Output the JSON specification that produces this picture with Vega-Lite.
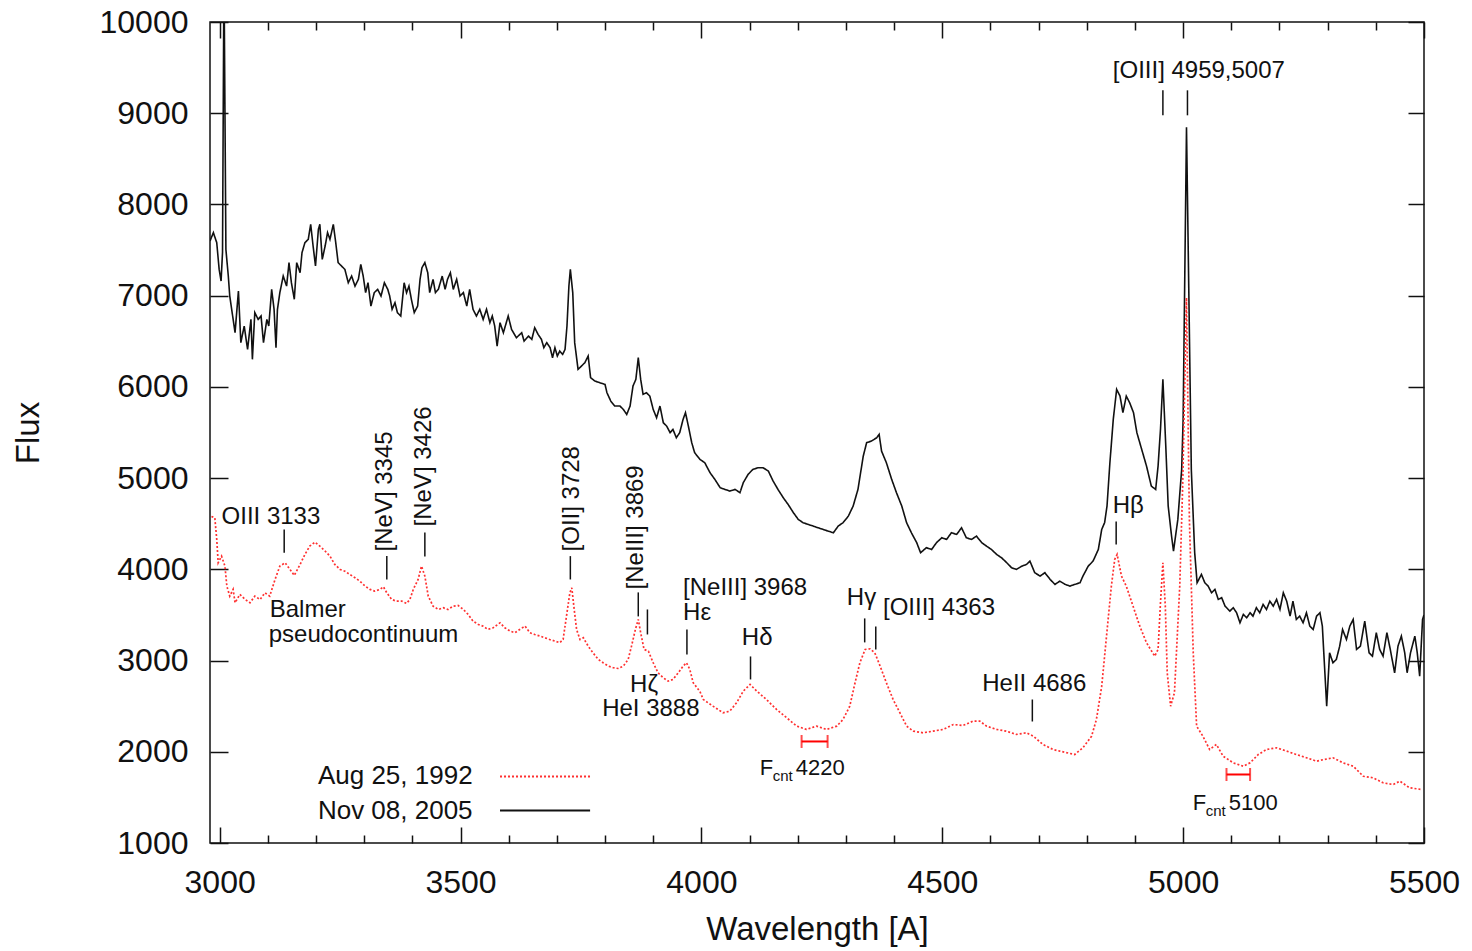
{
  "$schema": "https://vega.github.io/schema/vega-lite/v6.json",
  "width": 1214,
  "height": 821,
  "autosize": {"type": "none"},
  "padding": {"left": 210, "top": 22, "right": 48, "bottom": 108},
  "background": "white",
  "config": {
    "view": {"stroke": "#111111", "strokeWidth": 1.5},
    "font": "Liberation Sans",
    "axis": {"domain": false, "grid": false, "labelFont": "Liberation Sans", "titleFont": "Liberation Sans", "labelFontSize": 32, "titleFontSize": 33, "titleFontWeight": "normal", "labelColor": "#111111", "titleColor": "#111111", "tickColor": "#111111", "tickWidth": 1.5, "labelOverlap": false, "labelFlush": false, "format": "d"},
    "text": {"font": "Liberation Sans", "fontSize": 24, "color": "#111111"}
  },
  "datasets": {
    "spectra": [
      {"series":"Nov 08, 2005","w":2980,"f":7599},{"series":"Nov 08, 2005","w":2987,"f":7691},{"series":"Nov 08, 2005","w":2994,"f":7581},{"series":"Nov 08, 2005","w":2999,"f":7288},{"series":"Nov 08, 2005","w":3003,"f":7160},{"series":"Nov 08, 2005","w":3006,"f":7475},{"series":"Nov 08, 2005","w":3009,"f":10600},{"series":"Nov 08, 2005","w":3013,"f":7508},{"series":"Nov 08, 2005","w":3018,"f":7215},{"series":"Nov 08, 2005","w":3021,"f":6996},{"series":"Nov 08, 2005","w":3026,"f":6814},{"series":"Nov 08, 2005","w":3032,"f":6594},{"series":"Nov 08, 2005","w":3039,"f":7051},{"series":"Nov 08, 2005","w":3044,"f":6485},{"series":"Nov 08, 2005","w":3051,"f":6667},{"series":"Nov 08, 2005","w":3058,"f":6411},{"series":"Nov 08, 2005","w":3065,"f":6740},{"series":"Nov 08, 2005","w":3068,"f":6302},{"series":"Nov 08, 2005","w":3073,"f":6814},{"series":"Nov 08, 2005","w":3080,"f":6740},{"series":"Nov 08, 2005","w":3086,"f":6777},{"series":"Nov 08, 2005","w":3091,"f":6485},{"series":"Nov 08, 2005","w":3098,"f":6740},{"series":"Nov 08, 2005","w":3102,"f":6667},{"series":"Nov 08, 2005","w":3108,"f":7069},{"series":"Nov 08, 2005","w":3113,"f":6850},{"series":"Nov 08, 2005","w":3117,"f":6430},{"series":"Nov 08, 2005","w":3120,"f":6850},{"series":"Nov 08, 2005","w":3125,"f":7033},{"series":"Nov 08, 2005","w":3132,"f":7215},{"series":"Nov 08, 2005","w":3139,"f":7105},{"series":"Nov 08, 2005","w":3144,"f":7362},{"series":"Nov 08, 2005","w":3149,"f":7142},{"series":"Nov 08, 2005","w":3155,"f":6960},{"series":"Nov 08, 2005","w":3160,"f":7362},{"series":"Nov 08, 2005","w":3167,"f":7252},{"series":"Nov 08, 2005","w":3171,"f":7472},{"series":"Nov 08, 2005","w":3177,"f":7581},{"series":"Nov 08, 2005","w":3184,"f":7618},{"series":"Nov 08, 2005","w":3189,"f":7782},{"series":"Nov 08, 2005","w":3194,"f":7544},{"series":"Nov 08, 2005","w":3199,"f":7325},{"series":"Nov 08, 2005","w":3205,"f":7727},{"series":"Nov 08, 2005","w":3208,"f":7782},{"series":"Nov 08, 2005","w":3213,"f":7398},{"series":"Nov 08, 2005","w":3219,"f":7544},{"series":"Nov 08, 2005","w":3224,"f":7691},{"series":"Nov 08, 2005","w":3229,"f":7618},{"series":"Nov 08, 2005","w":3236,"f":7782},{"series":"Nov 08, 2005","w":3241,"f":7581},{"series":"Nov 08, 2005","w":3246,"f":7362},{"series":"Nov 08, 2005","w":3253,"f":7325},{"series":"Nov 08, 2005","w":3260,"f":7288},{"series":"Nov 08, 2005","w":3267,"f":7142},{"series":"Nov 08, 2005","w":3274,"f":7215},{"series":"Nov 08, 2005","w":3281,"f":7105},{"series":"Nov 08, 2005","w":3288,"f":7179},{"series":"Nov 08, 2005","w":3293,"f":7343},{"series":"Nov 08, 2005","w":3298,"f":7215},{"series":"Nov 08, 2005","w":3303,"f":7033},{"series":"Nov 08, 2005","w":3308,"f":7142},{"series":"Nov 08, 2005","w":3314,"f":6886},{"series":"Nov 08, 2005","w":3321,"f":7033},{"series":"Nov 08, 2005","w":3328,"f":7069},{"series":"Nov 08, 2005","w":3335,"f":6996},{"series":"Nov 08, 2005","w":3342,"f":7142},{"series":"Nov 08, 2005","w":3349,"f":7069},{"series":"Nov 08, 2005","w":3353,"f":6996},{"series":"Nov 08, 2005","w":3358,"f":6850},{"series":"Nov 08, 2005","w":3364,"f":6923},{"series":"Nov 08, 2005","w":3369,"f":6814},{"series":"Nov 08, 2005","w":3376,"f":6777},{"series":"Nov 08, 2005","w":3383,"f":7142},{"series":"Nov 08, 2005","w":3388,"f":7033},{"series":"Nov 08, 2005","w":3393,"f":7105},{"series":"Nov 08, 2005","w":3398,"f":6960},{"series":"Nov 08, 2005","w":3404,"f":6814},{"series":"Nov 08, 2005","w":3411,"f":6886},{"series":"Nov 08, 2005","w":3416,"f":7179},{"series":"Nov 08, 2005","w":3420,"f":7307},{"series":"Nov 08, 2005","w":3426,"f":7362},{"series":"Nov 08, 2005","w":3432,"f":7252},{"series":"Nov 08, 2005","w":3436,"f":7033},{"series":"Nov 08, 2005","w":3443,"f":7179},{"series":"Nov 08, 2005","w":3448,"f":7033},{"series":"Nov 08, 2005","w":3454,"f":7069},{"series":"Nov 08, 2005","w":3462,"f":7215},{"series":"Nov 08, 2005","w":3468,"f":7069},{"series":"Nov 08, 2005","w":3473,"f":7179},{"series":"Nov 08, 2005","w":3479,"f":7252},{"series":"Nov 08, 2005","w":3485,"f":7069},{"series":"Nov 08, 2005","w":3492,"f":7179},{"series":"Nov 08, 2005","w":3499,"f":6996},{"series":"Nov 08, 2005","w":3506,"f":7033},{"series":"Nov 08, 2005","w":3513,"f":6886},{"series":"Nov 08, 2005","w":3519,"f":7069},{"series":"Nov 08, 2005","w":3526,"f":6850},{"series":"Nov 08, 2005","w":3533,"f":6777},{"series":"Nov 08, 2005","w":3540,"f":6850},{"series":"Nov 08, 2005","w":3547,"f":6740},{"series":"Nov 08, 2005","w":3554,"f":6850},{"series":"Nov 08, 2005","w":3561,"f":6704},{"series":"Nov 08, 2005","w":3566,"f":6777},{"series":"Nov 08, 2005","w":3571,"f":6667},{"series":"Nov 08, 2005","w":3576,"f":6447},{"series":"Nov 08, 2005","w":3582,"f":6704},{"series":"Nov 08, 2005","w":3589,"f":6594},{"series":"Nov 08, 2005","w":3599,"f":6777},{"series":"Nov 08, 2005","w":3606,"f":6630},{"series":"Nov 08, 2005","w":3616,"f":6539},{"series":"Nov 08, 2005","w":3627,"f":6594},{"series":"Nov 08, 2005","w":3632,"f":6502},{"series":"Nov 08, 2005","w":3641,"f":6557},{"series":"Nov 08, 2005","w":3648,"f":6521},{"series":"Nov 08, 2005","w":3654,"f":6649},{"series":"Nov 08, 2005","w":3661,"f":6576},{"series":"Nov 08, 2005","w":3668,"f":6521},{"series":"Nov 08, 2005","w":3673,"f":6430},{"series":"Nov 08, 2005","w":3679,"f":6485},{"series":"Nov 08, 2005","w":3686,"f":6430},{"series":"Nov 08, 2005","w":3691,"f":6320},{"series":"Nov 08, 2005","w":3696,"f":6430},{"series":"Nov 08, 2005","w":3701,"f":6338},{"series":"Nov 08, 2005","w":3706,"f":6393},{"series":"Nov 08, 2005","w":3712,"f":6356},{"series":"Nov 08, 2005","w":3717,"f":6411},{"series":"Nov 08, 2005","w":3721,"f":6667},{"series":"Nov 08, 2005","w":3725,"f":7105},{"series":"Nov 08, 2005","w":3728,"f":7288},{"series":"Nov 08, 2005","w":3733,"f":7033},{"series":"Nov 08, 2005","w":3737,"f":6485},{"series":"Nov 08, 2005","w":3744,"f":6192},{"series":"Nov 08, 2005","w":3751,"f":6228},{"series":"Nov 08, 2005","w":3758,"f":6265},{"series":"Nov 08, 2005","w":3765,"f":6338},{"series":"Nov 08, 2005","w":3770,"f":6101},{"series":"Nov 08, 2005","w":3779,"f":6064},{"series":"Nov 08, 2005","w":3789,"f":6046},{"series":"Nov 08, 2005","w":3800,"f":6027},{"series":"Nov 08, 2005","w":3804,"f":5936},{"series":"Nov 08, 2005","w":3812,"f":5844},{"series":"Nov 08, 2005","w":3820,"f":5790},{"series":"Nov 08, 2005","w":3831,"f":5790},{"series":"Nov 08, 2005","w":3838,"f":5753},{"series":"Nov 08, 2005","w":3845,"f":5698},{"series":"Nov 08, 2005","w":3852,"f":5790},{"series":"Nov 08, 2005","w":3858,"f":6009},{"series":"Nov 08, 2005","w":3864,"f":6082},{"series":"Nov 08, 2005","w":3869,"f":6320},{"series":"Nov 08, 2005","w":3874,"f":6082},{"series":"Nov 08, 2005","w":3879,"f":5918},{"series":"Nov 08, 2005","w":3886,"f":5936},{"series":"Nov 08, 2005","w":3893,"f":5899},{"series":"Nov 08, 2005","w":3900,"f":5753},{"series":"Nov 08, 2005","w":3907,"f":5662},{"series":"Nov 08, 2005","w":3914,"f":5790},{"series":"Nov 08, 2005","w":3921,"f":5607},{"series":"Nov 08, 2005","w":3928,"f":5570},{"series":"Nov 08, 2005","w":3935,"f":5498},{"series":"Nov 08, 2005","w":3941,"f":5534},{"series":"Nov 08, 2005","w":3948,"f":5443},{"series":"Nov 08, 2005","w":3955,"f":5498},{"series":"Nov 08, 2005","w":3962,"f":5644},{"series":"Nov 08, 2005","w":3967,"f":5717},{"series":"Nov 08, 2005","w":3973,"f":5570},{"series":"Nov 08, 2005","w":3980,"f":5388},{"series":"Nov 08, 2005","w":3986,"f":5279},{"series":"Nov 08, 2005","w":3997,"f":5205},{"series":"Nov 08, 2005","w":4007,"f":5169},{"series":"Nov 08, 2005","w":4018,"f":5059},{"series":"Nov 08, 2005","w":4028,"f":4986},{"series":"Nov 08, 2005","w":4039,"f":4895},{"series":"Nov 08, 2005","w":4049,"f":4876},{"series":"Nov 08, 2005","w":4059,"f":4858},{"series":"Nov 08, 2005","w":4070,"f":4876},{"series":"Nov 08, 2005","w":4080,"f":4840},{"series":"Nov 08, 2005","w":4087,"f":4950},{"series":"Nov 08, 2005","w":4097,"f":5041},{"series":"Nov 08, 2005","w":4107,"f":5096},{"series":"Nov 08, 2005","w":4118,"f":5114},{"series":"Nov 08, 2005","w":4128,"f":5114},{"series":"Nov 08, 2005","w":4139,"f":5077},{"series":"Nov 08, 2005","w":4149,"f":4967},{"series":"Nov 08, 2005","w":4159,"f":4876},{"series":"Nov 08, 2005","w":4170,"f":4785},{"series":"Nov 08, 2005","w":4180,"f":4712},{"series":"Nov 08, 2005","w":4191,"f":4621},{"series":"Nov 08, 2005","w":4201,"f":4548},{"series":"Nov 08, 2005","w":4211,"f":4511},{"series":"Nov 08, 2005","w":4222,"f":4492},{"series":"Nov 08, 2005","w":4232,"f":4474},{"series":"Nov 08, 2005","w":4242,"f":4456},{"series":"Nov 08, 2005","w":4253,"f":4437},{"series":"Nov 08, 2005","w":4263,"f":4419},{"series":"Nov 08, 2005","w":4274,"f":4401},{"series":"Nov 08, 2005","w":4284,"f":4474},{"series":"Nov 08, 2005","w":4294,"f":4511},{"series":"Nov 08, 2005","w":4305,"f":4583},{"series":"Nov 08, 2005","w":4315,"f":4693},{"series":"Nov 08, 2005","w":4325,"f":4876},{"series":"Nov 08, 2005","w":4336,"f":5241},{"series":"Nov 08, 2005","w":4343,"f":5388},{"series":"Nov 08, 2005","w":4353,"f":5406},{"series":"Nov 08, 2005","w":4364,"f":5443},{"series":"Nov 08, 2005","w":4369,"f":5479},{"series":"Nov 08, 2005","w":4374,"f":5296},{"series":"Nov 08, 2005","w":4384,"f":5169},{"series":"Nov 08, 2005","w":4395,"f":4986},{"series":"Nov 08, 2005","w":4405,"f":4840},{"series":"Nov 08, 2005","w":4416,"f":4693},{"series":"Nov 08, 2005","w":4426,"f":4511},{"series":"Nov 08, 2005","w":4436,"f":4401},{"series":"Nov 08, 2005","w":4447,"f":4292},{"series":"Nov 08, 2005","w":4455,"f":4182},{"series":"Nov 08, 2005","w":4467,"f":4237},{"series":"Nov 08, 2005","w":4478,"f":4218},{"series":"Nov 08, 2005","w":4488,"f":4292},{"series":"Nov 08, 2005","w":4499,"f":4346},{"series":"Nov 08, 2005","w":4509,"f":4328},{"series":"Nov 08, 2005","w":4519,"f":4401},{"series":"Nov 08, 2005","w":4530,"f":4383},{"series":"Nov 08, 2005","w":4540,"f":4456},{"series":"Nov 08, 2005","w":4550,"f":4346},{"series":"Nov 08, 2005","w":4561,"f":4328},{"series":"Nov 08, 2005","w":4571,"f":4364},{"series":"Nov 08, 2005","w":4582,"f":4292},{"series":"Nov 08, 2005","w":4592,"f":4254},{"series":"Nov 08, 2005","w":4602,"f":4218},{"series":"Nov 08, 2005","w":4613,"f":4163},{"series":"Nov 08, 2005","w":4623,"f":4127},{"series":"Nov 08, 2005","w":4634,"f":4072},{"series":"Nov 08, 2005","w":4644,"f":4017},{"series":"Nov 08, 2005","w":4654,"f":3999},{"series":"Nov 08, 2005","w":4665,"f":4035},{"series":"Nov 08, 2005","w":4675,"f":4054},{"series":"Nov 08, 2005","w":4682,"f":4090},{"series":"Nov 08, 2005","w":4692,"f":3963},{"series":"Nov 08, 2005","w":4703,"f":3926},{"series":"Nov 08, 2005","w":4713,"f":3963},{"series":"Nov 08, 2005","w":4724,"f":3889},{"series":"Nov 08, 2005","w":4734,"f":3835},{"series":"Nov 08, 2005","w":4744,"f":3871},{"series":"Nov 08, 2005","w":4755,"f":3835},{"series":"Nov 08, 2005","w":4765,"f":3816},{"series":"Nov 08, 2005","w":4775,"f":3835},{"series":"Nov 08, 2005","w":4786,"f":3853},{"series":"Nov 08, 2005","w":4792,"f":3926},{"series":"Nov 08, 2005","w":4803,"f":4035},{"series":"Nov 08, 2005","w":4813,"f":4090},{"series":"Nov 08, 2005","w":4824,"f":4218},{"series":"Nov 08, 2005","w":4831,"f":4437},{"series":"Nov 08, 2005","w":4837,"f":4511},{"series":"Nov 08, 2005","w":4842,"f":4693},{"series":"Nov 08, 2005","w":4848,"f":5169},{"series":"Nov 08, 2005","w":4855,"f":5644},{"series":"Nov 08, 2005","w":4862,"f":5973},{"series":"Nov 08, 2005","w":4869,"f":5899},{"series":"Nov 08, 2005","w":4875,"f":5717},{"series":"Nov 08, 2005","w":4882,"f":5899},{"series":"Nov 08, 2005","w":4889,"f":5827},{"series":"Nov 08, 2005","w":4897,"f":5717},{"series":"Nov 08, 2005","w":4904,"f":5498},{"series":"Nov 08, 2005","w":4914,"f":5315},{"series":"Nov 08, 2005","w":4924,"f":5132},{"series":"Nov 08, 2005","w":4934,"f":4912},{"series":"Nov 08, 2005","w":4943,"f":4876},{"series":"Nov 08, 2005","w":4948,"f":5132},{"series":"Nov 08, 2005","w":4953,"f":5534},{"series":"Nov 08, 2005","w":4958,"f":6082},{"series":"Nov 08, 2005","w":4964,"f":5351},{"series":"Nov 08, 2005","w":4969,"f":4693},{"series":"Nov 08, 2005","w":4976,"f":4364},{"series":"Nov 08, 2005","w":4980,"f":4200},{"series":"Nov 08, 2005","w":4989,"f":4547},{"series":"Nov 08, 2005","w":4997,"f":5096},{"series":"Nov 08, 2005","w":5000,"f":5644},{"series":"Nov 08, 2005","w":5007,"f":8846},{"series":"Nov 08, 2005","w":5017,"f":5096},{"series":"Nov 08, 2005","w":5024,"f":4182},{"series":"Nov 08, 2005","w":5029,"f":3853},{"series":"Nov 08, 2005","w":5038,"f":3944},{"series":"Nov 08, 2005","w":5045,"f":3853},{"series":"Nov 08, 2005","w":5052,"f":3816},{"series":"Nov 08, 2005","w":5059,"f":3743},{"series":"Nov 08, 2005","w":5066,"f":3780},{"series":"Nov 08, 2005","w":5073,"f":3670},{"series":"Nov 08, 2005","w":5080,"f":3689},{"series":"Nov 08, 2005","w":5087,"f":3597},{"series":"Nov 08, 2005","w":5097,"f":3542},{"series":"Nov 08, 2005","w":5104,"f":3579},{"series":"Nov 08, 2005","w":5111,"f":3524},{"series":"Nov 08, 2005","w":5118,"f":3414},{"series":"Nov 08, 2005","w":5125,"f":3506},{"series":"Nov 08, 2005","w":5132,"f":3469},{"series":"Nov 08, 2005","w":5139,"f":3524},{"series":"Nov 08, 2005","w":5145,"f":3487},{"series":"Nov 08, 2005","w":5152,"f":3579},{"series":"Nov 08, 2005","w":5159,"f":3524},{"series":"Nov 08, 2005","w":5166,"f":3615},{"series":"Nov 08, 2005","w":5173,"f":3560},{"series":"Nov 08, 2005","w":5180,"f":3651},{"series":"Nov 08, 2005","w":5187,"f":3597},{"series":"Nov 08, 2005","w":5194,"f":3670},{"series":"Nov 08, 2005","w":5201,"f":3560},{"series":"Nov 08, 2005","w":5208,"f":3743},{"series":"Nov 08, 2005","w":5215,"f":3651},{"series":"Nov 08, 2005","w":5222,"f":3487},{"series":"Nov 08, 2005","w":5228,"f":3651},{"series":"Nov 08, 2005","w":5235,"f":3451},{"series":"Nov 08, 2005","w":5242,"f":3487},{"series":"Nov 08, 2005","w":5249,"f":3414},{"series":"Nov 08, 2005","w":5256,"f":3524},{"series":"Nov 08, 2005","w":5263,"f":3377},{"series":"Nov 08, 2005","w":5270,"f":3341},{"series":"Nov 08, 2005","w":5277,"f":3487},{"series":"Nov 08, 2005","w":5284,"f":3524},{"series":"Nov 08, 2005","w":5289,"f":3377},{"series":"Nov 08, 2005","w":5292,"f":3085},{"series":"Nov 08, 2005","w":5298,"f":2500},{"series":"Nov 08, 2005","w":5304,"f":3085},{"series":"Nov 08, 2005","w":5311,"f":2976},{"series":"Nov 08, 2005","w":5318,"f":3012},{"series":"Nov 08, 2005","w":5325,"f":3158},{"series":"Nov 08, 2005","w":5331,"f":3341},{"series":"Nov 08, 2005","w":5339,"f":3231},{"series":"Nov 08, 2005","w":5346,"f":3377},{"series":"Nov 08, 2005","w":5353,"f":3451},{"series":"Nov 08, 2005","w":5360,"f":3122},{"series":"Nov 08, 2005","w":5368,"f":3158},{"series":"Nov 08, 2005","w":5377,"f":3432},{"series":"Nov 08, 2005","w":5386,"f":3085},{"series":"Nov 08, 2005","w":5393,"f":3048},{"series":"Nov 08, 2005","w":5401,"f":3305},{"series":"Nov 08, 2005","w":5408,"f":3122},{"series":"Nov 08, 2005","w":5415,"f":3048},{"series":"Nov 08, 2005","w":5423,"f":3305},{"series":"Nov 08, 2005","w":5430,"f":3122},{"series":"Nov 08, 2005","w":5439,"f":2866},{"series":"Nov 08, 2005","w":5446,"f":3158},{"series":"Nov 08, 2005","w":5453,"f":3268},{"series":"Nov 08, 2005","w":5460,"f":3085},{"series":"Nov 08, 2005","w":5465,"f":2866},{"series":"Nov 08, 2005","w":5472,"f":3085},{"series":"Nov 08, 2005","w":5481,"f":3268},{"series":"Nov 08, 2005","w":5486,"f":3085},{"series":"Nov 08, 2005","w":5491,"f":2829},{"series":"Nov 08, 2005","w":5497,"f":3451},{"series":"Nov 08, 2005","w":5500,"f":3500},
      {"series":"Aug 25, 1992","w":2983,"f":4580},{"series":"Aug 25, 1992","w":2990,"f":4566},{"series":"Aug 25, 1992","w":2994,"f":4328},{"series":"Aug 25, 1992","w":2997,"f":4072},{"series":"Aug 25, 1992","w":3004,"f":4145},{"series":"Aug 25, 1992","w":3011,"f":4035},{"series":"Aug 25, 1992","w":3015,"f":3816},{"series":"Aug 25, 1992","w":3021,"f":3706},{"series":"Aug 25, 1992","w":3028,"f":3780},{"series":"Aug 25, 1992","w":3032,"f":3634},{"series":"Aug 25, 1992","w":3042,"f":3725},{"series":"Aug 25, 1992","w":3053,"f":3670},{"series":"Aug 25, 1992","w":3063,"f":3634},{"series":"Aug 25, 1992","w":3073,"f":3706},{"series":"Aug 25, 1992","w":3084,"f":3670},{"series":"Aug 25, 1992","w":3094,"f":3743},{"series":"Aug 25, 1992","w":3104,"f":3706},{"series":"Aug 25, 1992","w":3115,"f":3889},{"series":"Aug 25, 1992","w":3125,"f":4035},{"series":"Aug 25, 1992","w":3136,"f":4072},{"series":"Aug 25, 1992","w":3146,"f":3999},{"series":"Aug 25, 1992","w":3155,"f":3933},{"series":"Aug 25, 1992","w":3167,"f":4054},{"series":"Aug 25, 1992","w":3177,"f":4163},{"series":"Aug 25, 1992","w":3187,"f":4254},{"series":"Aug 25, 1992","w":3198,"f":4298},{"series":"Aug 25, 1992","w":3208,"f":4254},{"series":"Aug 25, 1992","w":3219,"f":4200},{"series":"Aug 25, 1992","w":3229,"f":4145},{"series":"Aug 25, 1992","w":3239,"f":4054},{"series":"Aug 25, 1992","w":3250,"f":3999},{"series":"Aug 25, 1992","w":3260,"f":3980},{"series":"Aug 25, 1992","w":3270,"f":3944},{"series":"Aug 25, 1992","w":3281,"f":3908},{"series":"Aug 25, 1992","w":3291,"f":3871},{"series":"Aug 25, 1992","w":3302,"f":3816},{"series":"Aug 25, 1992","w":3312,"f":3780},{"series":"Aug 25, 1992","w":3322,"f":3761},{"series":"Aug 25, 1992","w":3333,"f":3780},{"series":"Aug 25, 1992","w":3340,"f":3809},{"series":"Aug 25, 1992","w":3347,"f":3743},{"series":"Aug 25, 1992","w":3357,"f":3670},{"series":"Aug 25, 1992","w":3367,"f":3651},{"series":"Aug 25, 1992","w":3378,"f":3651},{"series":"Aug 25, 1992","w":3388,"f":3626},{"series":"Aug 25, 1992","w":3395,"f":3670},{"series":"Aug 25, 1992","w":3402,"f":3780},{"series":"Aug 25, 1992","w":3412,"f":3889},{"series":"Aug 25, 1992","w":3419,"f":4035},{"series":"Aug 25, 1992","w":3426,"f":3926},{"series":"Aug 25, 1992","w":3433,"f":3706},{"series":"Aug 25, 1992","w":3443,"f":3597},{"series":"Aug 25, 1992","w":3454,"f":3560},{"series":"Aug 25, 1992","w":3464,"f":3579},{"series":"Aug 25, 1992","w":3474,"f":3560},{"series":"Aug 25, 1992","w":3485,"f":3597},{"series":"Aug 25, 1992","w":3495,"f":3604},{"series":"Aug 25, 1992","w":3506,"f":3560},{"series":"Aug 25, 1992","w":3516,"f":3505},{"series":"Aug 25, 1992","w":3526,"f":3432},{"series":"Aug 25, 1992","w":3537,"f":3396},{"series":"Aug 25, 1992","w":3547,"f":3377},{"series":"Aug 25, 1992","w":3557,"f":3341},{"series":"Aug 25, 1992","w":3568,"f":3360},{"series":"Aug 25, 1992","w":3582,"f":3414},{"series":"Aug 25, 1992","w":3592,"f":3360},{"series":"Aug 25, 1992","w":3603,"f":3323},{"series":"Aug 25, 1992","w":3613,"f":3305},{"series":"Aug 25, 1992","w":3623,"f":3341},{"series":"Aug 25, 1992","w":3634,"f":3377},{"series":"Aug 25, 1992","w":3644,"f":3305},{"series":"Aug 25, 1992","w":3654,"f":3286},{"series":"Aug 25, 1992","w":3665,"f":3268},{"series":"Aug 25, 1992","w":3675,"f":3250},{"series":"Aug 25, 1992","w":3685,"f":3231},{"series":"Aug 25, 1992","w":3696,"f":3213},{"series":"Aug 25, 1992","w":3706,"f":3195},{"series":"Aug 25, 1992","w":3713,"f":3231},{"series":"Aug 25, 1992","w":3720,"f":3487},{"series":"Aug 25, 1992","w":3727,"f":3743},{"series":"Aug 25, 1992","w":3731,"f":3798},{"series":"Aug 25, 1992","w":3736,"f":3560},{"series":"Aug 25, 1992","w":3741,"f":3341},{"series":"Aug 25, 1992","w":3748,"f":3231},{"series":"Aug 25, 1992","w":3755,"f":3250},{"series":"Aug 25, 1992","w":3765,"f":3158},{"series":"Aug 25, 1992","w":3775,"f":3085},{"series":"Aug 25, 1992","w":3786,"f":3012},{"series":"Aug 25, 1992","w":3796,"f":2976},{"series":"Aug 25, 1992","w":3807,"f":2939},{"series":"Aug 25, 1992","w":3817,"f":2921},{"series":"Aug 25, 1992","w":3827,"f":2913},{"series":"Aug 25, 1992","w":3838,"f":2939},{"series":"Aug 25, 1992","w":3848,"f":3012},{"series":"Aug 25, 1992","w":3855,"f":3158},{"series":"Aug 25, 1992","w":3863,"f":3341},{"series":"Aug 25, 1992","w":3869,"f":3451},{"series":"Aug 25, 1992","w":3874,"f":3305},{"series":"Aug 25, 1992","w":3881,"f":3122},{"series":"Aug 25, 1992","w":3890,"f":3103},{"series":"Aug 25, 1992","w":3900,"f":2976},{"series":"Aug 25, 1992","w":3910,"f":2866},{"series":"Aug 25, 1992","w":3921,"f":2811},{"series":"Aug 25, 1992","w":3931,"f":2774},{"series":"Aug 25, 1992","w":3941,"f":2793},{"series":"Aug 25, 1992","w":3952,"f":2866},{"series":"Aug 25, 1992","w":3962,"f":2939},{"series":"Aug 25, 1992","w":3969,"f":2976},{"series":"Aug 25, 1992","w":3976,"f":2902},{"series":"Aug 25, 1992","w":3983,"f":2757},{"series":"Aug 25, 1992","w":3997,"f":2660},{"series":"Aug 25, 1992","w":4004,"f":2573},{"series":"Aug 25, 1992","w":4024,"f":2500},{"series":"Aug 25, 1992","w":4045,"f":2428},{"series":"Aug 25, 1992","w":4059,"f":2445},{"series":"Aug 25, 1992","w":4073,"f":2537},{"series":"Aug 25, 1992","w":4087,"f":2665},{"series":"Aug 25, 1992","w":4101,"f":2738},{"series":"Aug 25, 1992","w":4115,"f":2665},{"series":"Aug 25, 1992","w":4135,"f":2573},{"series":"Aug 25, 1992","w":4156,"f":2464},{"series":"Aug 25, 1992","w":4177,"f":2373},{"series":"Aug 25, 1992","w":4198,"f":2281},{"series":"Aug 25, 1992","w":4218,"f":2245},{"series":"Aug 25, 1992","w":4239,"f":2281},{"series":"Aug 25, 1992","w":4260,"f":2245},{"series":"Aug 25, 1992","w":4281,"f":2281},{"series":"Aug 25, 1992","w":4294,"f":2354},{"series":"Aug 25, 1992","w":4308,"f":2500},{"series":"Aug 25, 1992","w":4319,"f":2757},{"series":"Aug 25, 1992","w":4329,"f":2976},{"series":"Aug 25, 1992","w":4340,"f":3122},{"series":"Aug 25, 1992","w":4350,"f":3129},{"series":"Aug 25, 1992","w":4360,"f":3085},{"series":"Aug 25, 1992","w":4371,"f":2939},{"series":"Aug 25, 1992","w":4384,"f":2757},{"series":"Aug 25, 1992","w":4398,"f":2573},{"series":"Aug 25, 1992","w":4412,"f":2428},{"series":"Aug 25, 1992","w":4426,"f":2281},{"series":"Aug 25, 1992","w":4440,"f":2226},{"series":"Aug 25, 1992","w":4460,"f":2208},{"series":"Aug 25, 1992","w":4481,"f":2226},{"series":"Aug 25, 1992","w":4502,"f":2245},{"series":"Aug 25, 1992","w":4523,"f":2299},{"series":"Aug 25, 1992","w":4543,"f":2288},{"series":"Aug 25, 1992","w":4564,"f":2336},{"series":"Aug 25, 1992","w":4578,"f":2336},{"series":"Aug 25, 1992","w":4592,"f":2281},{"series":"Aug 25, 1992","w":4613,"f":2245},{"series":"Aug 25, 1992","w":4633,"f":2226},{"series":"Aug 25, 1992","w":4654,"f":2190},{"series":"Aug 25, 1992","w":4675,"f":2208},{"series":"Aug 25, 1992","w":4689,"f":2171},{"series":"Aug 25, 1992","w":4709,"f":2080},{"series":"Aug 25, 1992","w":4730,"f":2025},{"series":"Aug 25, 1992","w":4744,"f":2007},{"series":"Aug 25, 1992","w":4775,"f":1970},{"series":"Aug 25, 1992","w":4792,"f":2044},{"series":"Aug 25, 1992","w":4810,"f":2171},{"series":"Aug 25, 1992","w":4820,"f":2354},{"series":"Aug 25, 1992","w":4831,"f":2719},{"series":"Aug 25, 1992","w":4841,"f":3268},{"series":"Aug 25, 1992","w":4851,"f":3816},{"series":"Aug 25, 1992","w":4858,"f":4109},{"series":"Aug 25, 1992","w":4863,"f":4163},{"series":"Aug 25, 1992","w":4872,"f":3926},{"series":"Aug 25, 1992","w":4882,"f":3816},{"series":"Aug 25, 1992","w":4896,"f":3597},{"series":"Aug 25, 1992","w":4910,"f":3377},{"series":"Aug 25, 1992","w":4924,"f":3195},{"series":"Aug 25, 1992","w":4941,"f":3048},{"series":"Aug 25, 1992","w":4948,"f":3122},{"series":"Aug 25, 1992","w":4953,"f":3634},{"series":"Aug 25, 1992","w":4958,"f":4072},{"series":"Aug 25, 1992","w":4963,"f":3597},{"series":"Aug 25, 1992","w":4967,"f":2866},{"series":"Aug 25, 1992","w":4974,"f":2500},{"series":"Aug 25, 1992","w":4982,"f":2647},{"series":"Aug 25, 1992","w":4993,"f":3816},{"series":"Aug 25, 1992","w":4999,"f":4912},{"series":"Aug 25, 1992","w":5007,"f":6978},{"series":"Aug 25, 1992","w":5013,"f":4547},{"series":"Aug 25, 1992","w":5021,"f":3085},{"series":"Aug 25, 1992","w":5028,"f":2281},{"series":"Aug 25, 1992","w":5041,"f":2171},{"series":"Aug 25, 1992","w":5055,"f":2025},{"series":"Aug 25, 1992","w":5069,"f":2080},{"series":"Aug 25, 1992","w":5083,"f":1952},{"series":"Aug 25, 1992","w":5104,"f":1879},{"series":"Aug 25, 1992","w":5125,"f":1842},{"series":"Aug 25, 1992","w":5139,"f":1879},{"series":"Aug 25, 1992","w":5156,"f":1970},{"series":"Aug 25, 1992","w":5173,"f":2025},{"series":"Aug 25, 1992","w":5194,"f":2044},{"series":"Aug 25, 1992","w":5215,"f":2007},{"series":"Aug 25, 1992","w":5235,"f":1970},{"series":"Aug 25, 1992","w":5256,"f":1934},{"series":"Aug 25, 1992","w":5277,"f":1897},{"series":"Aug 25, 1992","w":5292,"f":1915},{"series":"Aug 25, 1992","w":5311,"f":1934},{"series":"Aug 25, 1992","w":5332,"f":1879},{"series":"Aug 25, 1992","w":5353,"f":1842},{"series":"Aug 25, 1992","w":5374,"f":1732},{"series":"Aug 25, 1992","w":5394,"f":1715},{"series":"Aug 25, 1992","w":5415,"f":1660},{"series":"Aug 25, 1992","w":5436,"f":1641},{"series":"Aug 25, 1992","w":5450,"f":1678},{"series":"Aug 25, 1992","w":5470,"f":1605},{"series":"Aug 25, 1992","w":5495,"f":1587}
    ],
    "legendRows": [
      {"series":"Aug 25, 1992","lw":3204,"s1":3582,"s2":3769,"f":1729},
      {"series":"Nov 08, 2005","lw":3204,"s1":3582,"s2":3769,"f":1356}
    ],
    "markers": [
      {"w":3134,"top":4438,"bottom":4182},
      {"w":3347,"top":4145,"bottom":3889},
      {"w":3426,"top":4405,"bottom":4141},
      {"w":3728,"top":4145,"bottom":3889},
      {"w":3869,"top":3747,"bottom":3484},
      {"w":3888,"top":3560,"bottom":3286},
      {"w":3970,"top":3341,"bottom":3067},
      {"w":4102,"top":3045,"bottom":2793},
      {"w":4339,"top":3462,"bottom":3199},
      {"w":4362,"top":3374,"bottom":3122},
      {"w":4687,"top":2573,"bottom":2332},
      {"w":4861,"top":4525,"bottom":4273},
      {"w":4958,"top":9251,"bottom":8977},
      {"w":5009,"top":9251,"bottom":8977}
    ],
    "labels": [
      {"w":3004,"f":4492,"text":"OIII 3133"},
      {"w":3104,"f":3473,"text":"Balmer"},
      {"w":3102,"f":3199,"text":"pseudocontinuum"},
      {"w":3962,"f":3714,"text":"[NeIII] 3968"},
      {"w":3962,"f":3440,"text":"Hε"},
      {"w":3852,"f":2655,"text":"Hζ"},
      {"w":3794,"f":2387,"text":"HeI 3888"},
      {"w":4084,"f":3166,"text":"Hδ"},
      {"w":4302,"f":3614,"text":"Hγ"},
      {"w":4377,"f":3494,"text":"[OIII] 4363"},
      {"w":4583,"f":2661,"text":"HeII 4686"},
      {"w":4854,"f":4613,"text":"Hβ"},
      {"w":4854,"f":9388,"text":"[OIII] 4959,5007"}
    ],
    "vlabels": [
      {"w":3343,"f":4196,"text":"[NeV] 3345"},
      {"w":3424,"f":4470,"text":"[NeV] 3426"},
      {"w":3731,"f":4196,"text":"[OII] 3728"},
      {"w":3864,"f":3780,"text":"[NeIII] 3869"}
    ],
    "fcnt": [
      {"lo":4208,"hi":4262,"f":2113,"lw":4121,"lf":1740,"num":"4220"},
      {"lo":5090,"hi":5139,"f":1751,"lw":5020,"lf":1367,"num":"5100"}
    ]
  },
  "layer": [
    {
      "data": {"name": "spectra"},
      "transform": [{"filter": "datum.series === 'Nov 08, 2005'"}],
      "mark": {"type": "line", "clip": true, "strokeWidth": 1.6},
      "encoding": {
        "x": {"field": "w", "type": "quantitative", "scale": {"domain": [2980, 5500], "nice": false, "zero": false},
          "axis": {"orient": "bottom", "values": [3000,3100,3200,3300,3400,3500,3600,3700,3800,3900,4000,4100,4200,4300,4400,4500,4600,4700,4800,4900,5000,5100,5200,5300,5400,5500],
            "labelExpr": "datum.value % 500 === 0 ? datum.label : ''",
            "tickSize": {"condition": {"test": "datum.value % 500 === 0", "value": -16}, "value": -8},
            "labelPadding": 40, "title": "Wavelength [A]", "titlePadding": 7}},
        "y": {"field": "f", "type": "quantitative", "scale": {"domain": [1000, 10000], "nice": false, "zero": false},
          "axis": {"orient": "left", "values": [1000,2000,3000,4000,5000,6000,7000,8000,9000,10000], "tickSize": -18, "labelPadding": 40, "title": "Flux", "titlePadding": 54}},
        "color": {"field": "series", "type": "nominal", "scale": {"domain": ["Aug 25, 1992", "Nov 08, 2005"], "range": ["#ff3030", "#111111"]}, "legend": null},
        "strokeDash": {"field": "series", "type": "nominal", "scale": {"domain": ["Aug 25, 1992", "Nov 08, 2005"], "range": [[2, 2], [1, 0]]}, "legend": null}
      }
    },
    {
      "data": {"name": "spectra"},
      "transform": [{"filter": "datum.series === 'Aug 25, 1992'"}],
      "mark": {"type": "line", "clip": true, "strokeWidth": 1.7},
      "encoding": {
        "x": {"field": "w", "type": "quantitative",
          "axis": {"orient": "top", "values": [3000,3100,3200,3300,3400,3500,3600,3700,3800,3900,4000,4100,4200,4300,4400,4500,4600,4700,4800,4900,5000,5100,5200,5300,5400,5500],
            "labels": false, "title": null,
            "tickSize": {"condition": {"test": "datum.value % 500 === 0", "value": -16}, "value": -8}}},
        "y": {"field": "f", "type": "quantitative",
          "axis": {"orient": "right", "values": [1000,2000,3000,4000,5000,6000,7000,8000,9000,10000], "tickSize": -16, "labels": false, "title": null}},
        "color": {"field": "series", "type": "nominal", "legend": null},
        "strokeDash": {"field": "series", "type": "nominal", "legend": null}
      }
    },
    {
      "data": {"name": "legendRows"},
      "mark": {"type": "rule", "strokeWidth": 1.8},
      "encoding": {
        "x": {"field": "s1", "type": "quantitative", "axis": null},
        "x2": {"field": "s2"},
        "y": {"field": "f", "type": "quantitative", "axis": null},
        "color": {"field": "series", "type": "nominal", "legend": null},
        "strokeDash": {"field": "series", "type": "nominal", "legend": null}
      }
    },
    {
      "data": {"name": "legendRows"},
      "mark": {"type": "text", "align": "left", "baseline": "middle", "fontSize": 26},
      "encoding": {
        "x": {"field": "lw", "type": "quantitative", "axis": null},
        "y": {"field": "f", "type": "quantitative", "axis": null},
        "text": {"field": "series"}
      }
    },
    {
      "data": {"name": "markers"},
      "mark": {"type": "rule", "color": "#111111", "strokeWidth": 1.5},
      "encoding": {
        "x": {"field": "w", "type": "quantitative", "axis": null},
        "y": {"field": "top", "type": "quantitative", "axis": null},
        "y2": {"field": "bottom"}
      }
    },
    {
      "data": {"name": "labels"},
      "mark": {"type": "text", "align": "left", "baseline": "alphabetic", "fontSize": 24},
      "encoding": {
        "x": {"field": "w", "type": "quantitative", "axis": null},
        "y": {"field": "f", "type": "quantitative", "axis": null},
        "text": {"field": "text"}
      }
    },
    {
      "data": {"name": "vlabels"},
      "mark": {"type": "text", "align": "left", "baseline": "middle", "angle": 270, "fontSize": 24},
      "encoding": {
        "x": {"field": "w", "type": "quantitative", "axis": null},
        "y": {"field": "f", "type": "quantitative", "axis": null},
        "text": {"field": "text"}
      }
    },
    {
      "data": {"name": "fcnt"},
      "mark": {"type": "rule", "color": "#ff0000", "strokeWidth": 2},
      "encoding": {
        "x": {"field": "lo", "type": "quantitative", "axis": null},
        "x2": {"field": "hi"},
        "y": {"field": "f", "type": "quantitative", "axis": null}
      }
    },
    {
      "data": {"name": "fcnt"},
      "mark": {"type": "tick", "orient": "vertical", "color": "#ff0000", "size": 13, "thickness": 2},
      "encoding": {
        "x": {"field": "lo", "type": "quantitative", "axis": null},
        "y": {"field": "f", "type": "quantitative", "axis": null}
      }
    },
    {
      "data": {"name": "fcnt"},
      "mark": {"type": "tick", "orient": "vertical", "color": "#ff0000", "size": 13, "thickness": 2},
      "encoding": {
        "x": {"field": "hi", "type": "quantitative", "axis": null},
        "y": {"field": "f", "type": "quantitative", "axis": null}
      }
    },
    {
      "data": {"name": "fcnt"},
      "mark": {"type": "text", "text": "F", "align": "left", "baseline": "alphabetic", "fontSize": 22},
      "encoding": {
        "x": {"field": "lw", "type": "quantitative", "axis": null},
        "y": {"field": "lf", "type": "quantitative", "axis": null}
      }
    },
    {
      "data": {"name": "fcnt"},
      "mark": {"type": "text", "text": "cnt", "align": "left", "baseline": "alphabetic", "fontSize": 15, "dx": 13, "dy": 6},
      "encoding": {
        "x": {"field": "lw", "type": "quantitative", "axis": null},
        "y": {"field": "lf", "type": "quantitative", "axis": null}
      }
    },
    {
      "data": {"name": "fcnt"},
      "mark": {"type": "text", "align": "left", "baseline": "alphabetic", "fontSize": 22, "dx": 36},
      "encoding": {
        "x": {"field": "lw", "type": "quantitative", "axis": null},
        "y": {"field": "lf", "type": "quantitative", "axis": null},
        "text": {"field": "num"}
      }
    }
  ],
  "resolve": {"axis": {"x": "independent", "y": "independent"}}
}
